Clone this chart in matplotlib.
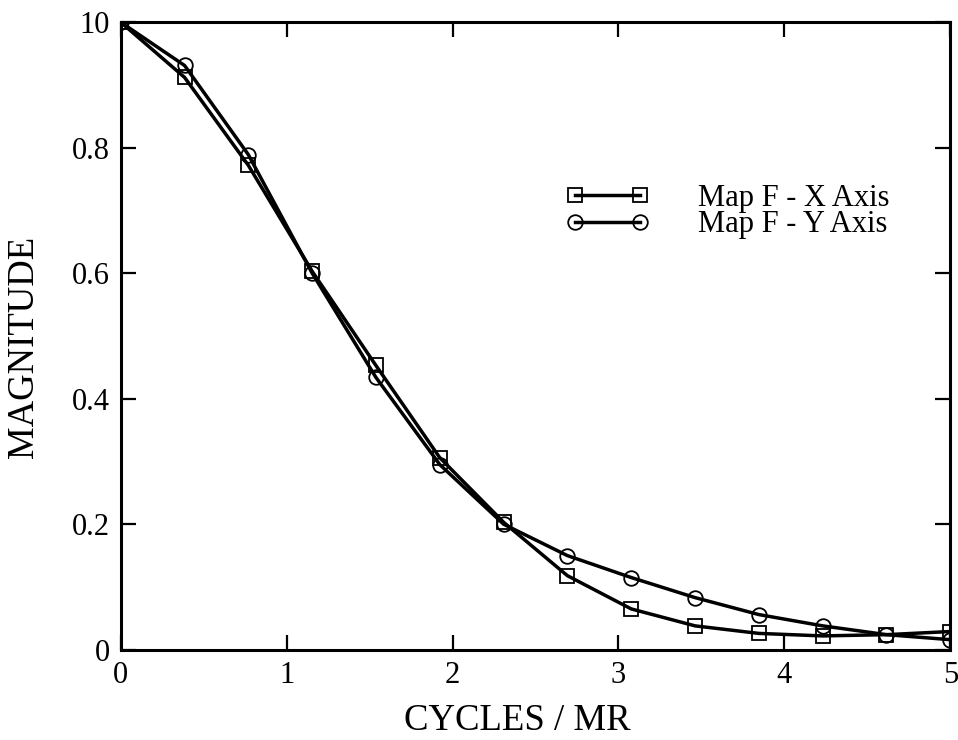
import matplotlib
matplotlib.use("Agg")
import matplotlib.pyplot as plt

# Spatial frequency samples (cycles per MR) and response magnitudes
cycles = [0.0, 0.385, 0.769, 1.154, 1.538, 1.923, 2.308, 2.692,
          3.077, 3.462, 3.846, 4.231, 4.615, 5.0]
mag_x = [1.0, 0.912, 0.772, 0.603, 0.453, 0.306, 0.203, 0.118,
         0.065, 0.038, 0.026, 0.022, 0.024, 0.029]
mag_y = [1.0, 0.931, 0.789, 0.600, 0.434, 0.295, 0.200, 0.150,
         0.115, 0.083, 0.056, 0.038, 0.024, 0.016]

series_labels = ["Map F - X Axis", "Map F - Y Axis"]
x_ticks = [0, 1, 2, 3, 4, 5]
x_ticklabels = ["0", "1", "2", "3", "4", "5"]
y_ticks = [0.0, 0.2, 0.4, 0.6, 0.8, 1.0]
y_ticklabels = ["0", "0.2", "0.4", "0.6", "0.8", "10"]

plt.rcParams["font.family"] = ["Liberation Serif", "DejaVu Serif"]

fig = plt.figure(figsize=(9.58, 7.40), dpi=100)
ax = fig.add_axes([0.126, 0.122, 0.866, 0.848])

ax.plot(cycles, mag_x, color="black", linewidth=2.5, marker="s",
        markersize=10.5, markerfacecolor="none", markeredgecolor="black",
        markeredgewidth=1.3, label=series_labels[0])
ax.plot(cycles, mag_y, color="black", linewidth=2.5, marker="o",
        markersize=10.5, markerfacecolor="none", markeredgecolor="black",
        markeredgewidth=1.3, label=series_labels[1])

ax.set_xlim(0, 5)
ax.set_ylim(0, 1.0)
ax.set_xticks(x_ticks)
ax.set_xticklabels(x_ticklabels)
ax.set_yticks(y_ticks)
ax.set_yticklabels(y_ticklabels)

ax.tick_params(direction="in", length=11, width=1.6, labelsize=22,
               top=True, right=True, pad=8)
for s in ax.spines.values():
    s.set_linewidth(2.2)

ax.set_xlabel("CYCLES / MR", fontsize=26.5)
ax.xaxis.set_label_coords(0.478, -0.085)
ax.set_ylabel("MAGNITUDE", fontsize=26.5)
ax.yaxis.set_label_coords(-0.096, 0.482)

ax.legend(loc="upper left", bbox_to_anchor=(0.591, 0.752),
          bbox_transform=fig.transFigure, frameon=False, numpoints=2,
          fontsize=22, handlelength=2.72, handletextpad=1.6,
          labelspacing=-0.07, borderpad=0, borderaxespad=0)

fig.savefig("out.png", dpi=100)
